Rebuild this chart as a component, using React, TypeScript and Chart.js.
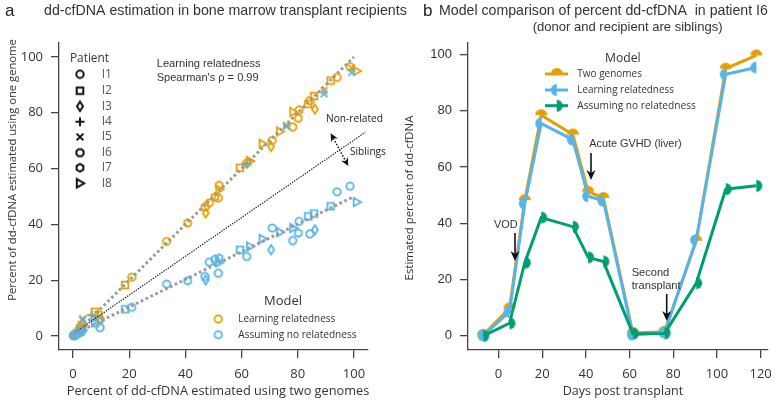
import React, { useEffect, useRef } from 'react';
import { Chart, registerables } from 'chart.js';

Chart.register(...registerables);

const ORANGE = '#E69F00';
const BLUE = '#56B4E9';
const GREEN = '#009E73';

// ---------- Panel a data (x = two genomes, learn = learning relatedness, none = assuming no relatedness)
const I1_two = [98.6, 94.0, 80.5, 70.9, 48.5, 33.3, 20.9, 1.2, 0.2];
const I1_learn = [96.5, 92.7, 81.0, 70.1, 47.7, 33.9, 21.1, 1.0, 0.2];
const I1_none = [53.7, 51.7, 41.1, 38.7, 26.5, 18.6, 10.3, 0.6, 0.1];

const I2_two = [91.7, 85.8, 83.7, 59.4, 18.5, 7.8, 9.0, 2.5];
const I2_learn = [91.5, 86.0, 83.1, 60.3, 18.3, 8.7, 7.6, 2.8];
const I2_none = [46.5, 43.9, 42.9, 30.9, 9.6, 4.6, 5.6, 1.5];

const I3_two = [86.1, 70.5, 47.2, 1.5, 3.8];
const I3_learn = [81.3, 67.9, 44.1, 1.5, 4.0];
const I3_none = [38.1, 30.9, 20.1, 0.8, 2.2];

const I4_two = [61.8, 6.6, 1.8];
const I4_learn = [62.0, 7.6, 2.2];
const I4_none = [61.5, 7.4, 2.0];

const I5_two = [99.2, 89.4, 76.0, 3.4];
const I5_learn = [96.0, 88.0, 75.5, 6.2];
const I5_none = [94.5, 86.8, 75.2, 5.8];

const I6_two = [84.3, 78.2, 61.8, 51.7, 47.0, 9.6, 0.4, 2.2];
const I6_learn = [84.3, 74.9, 61.9, 49.5, 46.3, 6.0, 0.5, 2.4];
const I6_none = [36.6, 34.2, 28.5, 22.5, 21.3, 3.0, 0.3, 1.2];

const I7_two = [80.2, 52.0, 50.5, 40.8, 0.8];
const I7_learn = [78.0, 54.0, 49.8, 40.5, 0.6];
const I7_none = [36.9, 27.9, 27.5, 19.8, 0.4];

const I8_two = [101.0, 78.4, 73.7, 67.5, 63.0, 52.1, 3.0];
const I8_learn = [95.0, 80.3, 73.3, 68.9, 62.7, 52.5, 3.5];
const I8_none = [48.0, 38.7, 37.2, 34.8, 32.1, 26.4, 1.8];

const fitLearnX = [0, 100];
const fitLearnY = [0, 100];
const fitNoneX = [0, 100];
const fitNoneY = [0.5, 50];
const divideX = [1, 104];
const divideY = [1.5, 73];

const ticksA = [0, 20, 40, 60, 80, 100];

// ---------- Panel b data
const days = [-7, 5, 12, 19.5, 34, 41, 48, 61.5, 76, 90.5, 104, 118];
const pctTwoGenomes = [0.4, 9.8, 48.2, 78.4, 71.5, 51.2, 49.0, 1.0, 1.5, 33.8, 94.9, 99.6];
const pctLearning = [0.2, 8.6, 47.0, 75.4, 69.7, 49.6, 48.0, 0.4, 1.2, 34.0, 92.9, 95.3];
const pctNoRelated = [0.0, 4.5, 26.0, 42.0, 38.8, 27.9, 26.4, 0.8, 0.9, 18.7, 52.1, 53.3];
const ticksBx = [0, 20, 40, 60, 80, 100, 120];
const ticksBy = [0, 20, 40, 60, 80, 100];

const patientLabels = ['I1', 'I2', 'I3', 'I4', 'I5', 'I6', 'I7', 'I8'];
const patientShapes = ['circle', 'square', 'diamond', 'plus', 'x', 'octagon', 'hexagon', 'triR'];

// ---------- marker images
function makeMarker(shape: string, color: string, lw = 1.8): HTMLCanvasElement {
  const s = 14;
  const c = document.createElement('canvas');
  c.width = s;
  c.height = s;
  const g = c.getContext('2d') as CanvasRenderingContext2D;
  g.strokeStyle = color;
  g.lineWidth = lw;
  const m = s / 2;
  const poly = (n: number, r: number, rot: number) => {
    for (let i = 0; i < n; i++) {
      const a = rot + (i * 2 * Math.PI) / n;
      const px = m + r * Math.cos(a);
      const py = m + r * Math.sin(a);
      if (i === 0) g.moveTo(px, py);
      else g.lineTo(px, py);
    }
    g.closePath();
  };
  g.beginPath();
  switch (shape) {
    case 'circle':
      g.arc(m, m, 3.7, 0, Math.PI * 2);
      break;
    case 'square':
      g.rect(m - 3.3, m - 3.3, 6.6, 6.6);
      break;
    case 'diamond':
      g.moveTo(m, m - 4.7);
      g.lineTo(m + 3.0, m);
      g.lineTo(m, m + 4.7);
      g.lineTo(m - 3.0, m);
      g.closePath();
      break;
    case 'plus':
      g.moveTo(m - 4.5, m);
      g.lineTo(m + 4.5, m);
      g.moveTo(m, m - 4.5);
      g.lineTo(m, m + 4.5);
      break;
    case 'x':
      g.moveTo(m - 3.4, m - 3.4);
      g.lineTo(m + 3.4, m + 3.4);
      g.moveTo(m + 3.4, m - 3.4);
      g.lineTo(m - 3.4, m + 3.4);
      break;
    case 'octagon':
      poly(8, 3.9, Math.PI / 8);
      break;
    case 'hexagon':
      poly(6, 3.9, Math.PI / 2);
      break;
    case 'triR':
      g.moveTo(m + 4.3, m);
      g.lineTo(m - 3.2, m - 4.2);
      g.lineTo(m - 3.2, m + 4.2);
      g.closePath();
      break;
  }
  g.stroke();
  return c;
}

function halfDisc(color: string, side: string, r = 6): HTMLCanvasElement {
  const s = 2 * r + 2;
  const c = document.createElement('canvas');
  c.width = s;
  c.height = s;
  const g = c.getContext('2d') as CanvasRenderingContext2D;
  g.fillStyle = color;
  const m = s / 2;
  g.beginPath();
  if (side === 'top') g.arc(m, m, r, Math.PI, 2 * Math.PI);
  else if (side === 'left') g.arc(m, m, r, Math.PI / 2, (3 * Math.PI) / 2);
  else g.arc(m, m, r, -Math.PI / 2, Math.PI / 2);
  g.closePath();
  g.fill();
  return c;
}

// ---------- drawing helpers
function txt(
  ctx: CanvasRenderingContext2D,
  s: string,
  x: number,
  y: number,
  o: { w?: number; size?: number; family?: string; align?: CanvasTextAlign; color?: string; rot?: number } = {}
) {
  const family = o.family || 'Liberation Sans';
  let size = o.size || 13;
  ctx.save();
  ctx.font = `${size}px "${family}"`;
  if (o.w) {
    const mw = ctx.measureText(s).width;
    size = (size * o.w) / mw;
    ctx.font = `${size}px "${family}"`;
  }
  ctx.fillStyle = o.color || '#222';
  ctx.textAlign = o.align || 'left';
  ctx.textBaseline = 'middle';
  ctx.translate(x, y);
  if (o.rot) ctx.rotate(o.rot);
  ctx.fillText(s, 0, 0);
  ctx.restore();
}

function arrow(
  ctx: CanvasRenderingContext2D,
  x1: number,
  y1: number,
  x2: number,
  y2: number,
  o: { both?: boolean; dash?: number[]; width?: number; head?: number; hw?: number; color?: string } = {}
) {
  const head = o.head || 9;
  const hw = o.hw || 4;
  const a = Math.atan2(y2 - y1, x2 - x1);
  ctx.save();
  ctx.strokeStyle = o.color || '#111';
  ctx.fillStyle = o.color || '#111';
  ctx.lineWidth = o.width || 1.5;
  if (o.dash) ctx.setLineDash(o.dash);
  const sx = o.both ? x1 + Math.cos(a) * head * 0.7 : x1;
  const sy = o.both ? y1 + Math.sin(a) * head * 0.7 : y1;
  ctx.beginPath();
  ctx.moveTo(sx, sy);
  ctx.lineTo(x2 - Math.cos(a) * head * 0.7, y2 - Math.sin(a) * head * 0.7);
  ctx.stroke();
  ctx.setLineDash([]);
  const hd = (tx: number, ty: number, ang: number) => {
    const bx = tx - head * Math.cos(ang);
    const by = ty - head * Math.sin(ang);
    const nx = bx + head * 0.3 * Math.cos(ang);
    const ny = by + head * 0.3 * Math.sin(ang);
    ctx.beginPath();
    ctx.moveTo(tx, ty);
    ctx.lineTo(bx + hw * Math.sin(ang), by - hw * Math.cos(ang));
    ctx.lineTo(nx, ny);
    ctx.lineTo(bx - hw * Math.sin(ang), by + hw * Math.cos(ang));
    ctx.closePath();
    ctx.fill();
  };
  hd(x2, y2, a);
  if (o.both) hd(x1, y1, a + Math.PI);
  ctx.restore();
}

function axis(min: number, max: number, vals: number[], family: string, size: number, horizontal: boolean) {
  return {
    type: 'linear',
    min,
    max,
    afterBuildTicks: (s: any) => {
      s.ticks = vals.map((v) => ({ value: v }));
    },
    afterFit: (s: any) => {
      if (horizontal) s.height = size;
      else s.width = size;
    },
    grid: {
      display: true,
      drawOnChartArea: false,
      drawTicks: true,
      tickLength: 8,
      color: '#444',
      lineWidth: 1.3,
    },
    border: { display: true, color: '#444', width: 1.3 },
    ticks: {
      font: { family, size: 13 },
      color: '#333',
      padding: 8,
      maxRotation: 0,
      autoSkip: false,
    },
  };
}

const pairs = (xs: number[], ys: number[]) => xs.map((x, i) => ({ x, y: ys[i] }));

export default function App() {
  const refA = useRef<HTMLCanvasElement>(null);
  const refB = useRef<HTMLCanvasElement>(null);

  useEffect(() => {
    const twos = [I1_two, I2_two, I3_two, I4_two, I5_two, I6_two, I7_two, I8_two];
    const learns = [I1_learn, I2_learn, I3_learn, I4_learn, I5_learn, I6_learn, I7_learn, I8_learn];
    const nones = [I1_none, I2_none, I3_none, I4_none, I5_none, I6_none, I7_none, I8_none];

    const dsA: any[] = [
      {
        type: 'line',
        data: pairs(fitLearnX, fitLearnY),
        borderColor: '#999',
        borderWidth: 3,
        borderDash: [2.6, 2.8],
        pointRadius: 0,
        showLine: true,
        order: 0,
      },
      {
        type: 'line',
        data: pairs(fitNoneX, fitNoneY),
        borderColor: '#999',
        borderWidth: 3,
        borderDash: [2.6, 2.8],
        pointRadius: 0,
        showLine: true,
        order: 0,
      },
      {
        type: 'line',
        data: pairs(divideX, divideY),
        borderColor: '#111',
        borderWidth: 1.2,
        borderDash: [1.3, 1.3],
        pointRadius: 0,
        showLine: true,
        order: 0,
      },
    ];
    patientShapes.forEach((shape, i) => {
      dsA.push({
        type: 'scatter',
        data: pairs(twos[i], nones[i]),
        pointStyle: makeMarker(shape, BLUE),
        pointRadius: 5,
        showLine: false,
        order: 1,
      });
      dsA.push({
        type: 'scatter',
        data: pairs(twos[i], learns[i]),
        pointStyle: makeMarker(shape, ORANGE),
        pointRadius: 5,
        showLine: false,
        order: 2,
      });
    });

    const decorA = {
      id: 'decorA',
      afterDraw(chart: any) {
        const ctx = chart.ctx as CanvasRenderingContext2D;
        txt(ctx, 'a', 5, 11, { size: 17 });
        txt(ctx, 'dd-cfDNA estimation in bone marrow transplant recipients', 44, 11, { w: 363, color: '#333' });
        txt(ctx, 'Percent of dd-cfDNA estimated using one genome', 12.3, 170, {
          w: 262,
          family: 'Open Sans',
          align: 'center',
          rot: -Math.PI / 2,
          color: '#333',
        });
        txt(ctx, 'Percent of dd-cfDNA estimated using two genomes', 218, 391.7, {
          w: 302.6,
          family: 'Open Sans',
          align: 'center',
          color: '#333',
        });
        txt(ctx, 'Learning relatedness', 156.7, 64.3, { w: 104, color: '#333' });
        txt(ctx, "Spearman's \u03c1 = 0.99", 156.7, 77.7, { w: 102, color: '#333' });
        txt(ctx, 'Non-related', 326, 119, { w: 57, family: 'Open Sans', color: '#222' });
        txt(ctx, 'Siblings', 350, 151.7, { w: 36, family: 'Open Sans', color: '#222' });
        arrow(ctx, 330.7, 133.3, 348.3, 166, { both: true, dash: [1.6, 1.6], width: 1.4, head: 8, hw: 3.8 });
        // Patient legend
        txt(ctx, 'Patient', 70, 58.3, { w: 39, family: 'Open Sans', color: '#333' });
        const rows = [74.3, 90.7, 106.3, 121.7, 137, 152.7, 167.7, 183.3];
        patientShapes.forEach((shape, i) => {
          const img = makeMarker(shape, '#111', 2.0);
          ctx.drawImage(img, 80 - 7, rows[i] - 7);
          txt(ctx, patientLabels[i], 101.7, rows[i], { size: 12, family: 'Open Sans', color: '#555' });
        });
        // Model legend
        txt(ctx, 'Model', 264, 301.7, { w: 38, family: 'Open Sans', color: '#333' });
        ctx.drawImage(makeMarker('circle', ORANGE), 218.3 - 7, 319 - 7);
        ctx.drawImage(makeMarker('circle', BLUE), 218.3 - 7, 334.7 - 7);
        txt(ctx, 'Learning relatedness', 238.3, 319, { w: 97, family: 'Open Sans', color: '#333' });
        txt(ctx, 'Assuming no relatedness', 238.3, 334.7, { w: 118.4, family: 'Open Sans', color: '#333' });
      },
    };

    const chartA = new Chart(refA.current as HTMLCanvasElement, {
      type: 'scatter',
      data: { datasets: dsA },
      options: {
        responsive: false,
        animation: false,
        layout: { padding: { left: 0, right: 412, top: 43, bottom: 0 } },
        plugins: { legend: { display: false }, tooltip: { enabled: false } },
        scales: {
          x: axis(-5, 105, ticksA, 'Open Sans', 51, true),
          y: axis(-5, 105, ticksA, 'Open Sans', 59, false),
        },
      } as any,
      plugins: [decorA],
    } as any);

    const imgTwo = halfDisc(ORANGE, 'top');
    const imgLearn = halfDisc(BLUE, 'left');
    const imgNone = halfDisc(GREEN, 'right');

    const lineDs = (ys: number[], color: string, img: HTMLCanvasElement, order: number) => ({
      type: 'line',
      data: pairs(days, ys),
      borderColor: color,
      backgroundColor: color,
      borderWidth: 3,
      pointStyle: img,
      pointRadius: 6,
      showLine: true,
      tension: 0,
      order,
    });

    const decorB = {
      id: 'decorB',
      afterDraw(chart: any) {
        const ctx = chart.ctx as CanvasRenderingContext2D;
        const X = 390;
        txt(ctx, 'b', X + 33, 11, { size: 17 });
        txt(ctx, 'Model comparison of percent dd-cfDNA  in patient I6', X + 49, 11, { w: 329, color: '#333' });
        txt(ctx, '(donor and recipient are siblings)', X + 142.7, 27, { w: 190, color: '#333' });
        txt(ctx, 'Estimated percent of dd-cfDNA', X + 20, 198, {
          w: 165,
          family: 'Open Sans',
          align: 'center',
          rot: -Math.PI / 2,
          color: '#333',
        });
        txt(ctx, 'Days post transplant', X + 233, 391.7, {
          w: 120.6,
          family: 'Open Sans',
          align: 'center',
          color: '#333',
        });
        // legend
        txt(ctx, 'Model', X + 215, 58.3, { w: 35.7, family: 'Open Sans', color: '#333' });
        const items: [string, string, HTMLCanvasElement, number, number][] = [
          ['Two genomes', ORANGE, imgTwo, 74, 64.7],
          ['Learning relatedness', BLUE, imgLearn, 90, 96.7],
          ['Assuming no relatedness', GREEN, imgNone, 105.7, 118.7],
        ];
        items.forEach(([label, color, img, y, w]) => {
          ctx.save();
          ctx.strokeStyle = color;
          ctx.lineWidth = 3;
          ctx.beginPath();
          ctx.moveTo(X + 155, y);
          ctx.lineTo(X + 178, y);
          ctx.stroke();
          ctx.restore();
          ctx.drawImage(img, X + 166.7 - img.width / 2, y - img.height / 2);
          txt(ctx, label, X + 187.3, y, { w, family: 'Open Sans', color: '#333' });
        });
        // annotations
        txt(ctx, 'VOD', X + 104, 225, { w: 23.7, color: '#333' });
        arrow(ctx, X + 125, 233, X + 125, 261, { width: 1.6, head: 10, hw: 4.5 });
        txt(ctx, 'Acute GVHD (liver)', X + 199.3, 144.3, { w: 92.4, color: '#333' });
        arrow(ctx, X + 201, 153, X + 201, 180, { width: 1.6, head: 10, hw: 4.5 });
        txt(ctx, 'Second', X + 241.7, 272.7, { w: 37.6, color: '#333' });
        txt(ctx, 'transplant', X + 241.7, 286, { w: 49, color: '#333' });
        arrow(ctx, X + 276.7, 294, X + 276.7, 321, { width: 1.6, head: 10, hw: 4.5 });
      },
    };

    const chartB = new Chart(refB.current as HTMLCanvasElement, {
      type: 'scatter',
      data: {
        datasets: [
          lineDs(pctNoRelated, GREEN, imgNone, 0),
          lineDs(pctLearning, BLUE, imgLearn, 1),
          lineDs(pctTwoGenomes, ORANGE, imgTwo, 2),
        ],
      },
      options: {
        responsive: false,
        animation: false,
        layout: { padding: { left: 390, right: 7, top: 43, bottom: 0 } },
        plugins: { legend: { display: false }, tooltip: { enabled: false } },
        scales: {
          x: axis(-14, 123, ticksBx, 'Open Sans', 51, true),
          y: axis(-5, 104, ticksBy, 'Liberation Sans', 78, false),
        },
      } as any,
      plugins: [decorB],
    } as any);

    return () => {
      chartA.destroy();
      chartB.destroy();
    };
  }, []);

  return (
    <div style={{ position: 'absolute', left: 0, top: 0, width: 780, height: 401, background: '#fff' }}>
      <canvas ref={refA} width={780} height={401} style={{ position: 'absolute', left: 0, top: 0 }} />
      <canvas ref={refB} width={780} height={401} style={{ position: 'absolute', left: 0, top: 0 }} />
    </div>
  );
}
